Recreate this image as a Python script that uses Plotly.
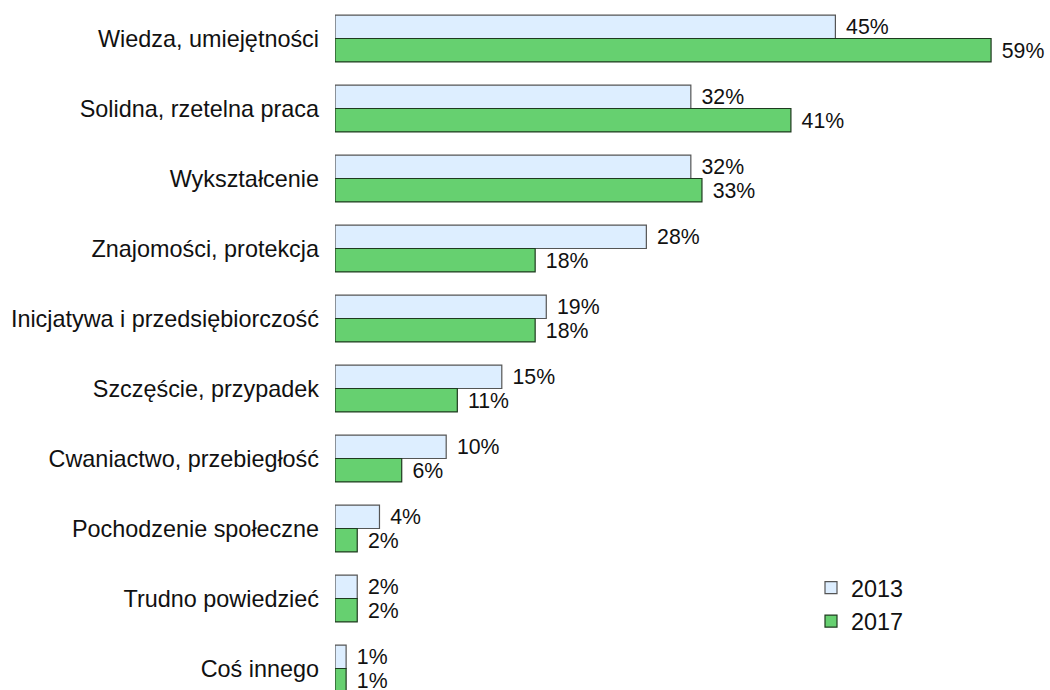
import plotly.graph_objects as go

categories = [
    "Wiedza, umiejętności",
    "Solidna, rzetelna praca",
    "Wykształcenie",
    "Znajomości, protekcja",
    "Inicjatywa i przedsiębiorczość",
    "Szczęście, przypadek",
    "Cwaniactwo, przebiegłość",
    "Pochodzenie społeczne",
    "Trudno powiedzieć",
    "Coś innego",
]
values_2013 = [45, 32, 32, 28, 19, 15, 10, 4, 2, 1]
values_2017 = [59, 41, 33, 18, 18, 11, 6, 2, 2, 1]
series_names = ["2013", "2017"]

FONT = "Arial, 'Liberation Sans', sans-serif"
FS = 23.4
LFS = 24.5
PAD = "\u00a0\u200a"

fig = go.Figure()
fig.add_trace(go.Bar(
    name=series_names[0], y=categories, x=values_2013, orientation="h",
    marker=dict(color="#DDEEFF", line=dict(color="#555555", width=1.2)),
    text=[f"{PAD}{v}%" for v in values_2013], textposition="outside",
    textfont=dict(family=FONT, size=LFS, color="#111111"),
    cliponaxis=False, legendgroup="a",
))
fig.add_trace(go.Bar(
    name=series_names[1], y=categories, x=values_2017, orientation="h",
    marker=dict(color="#66D070", line=dict(color="#1F3A1F", width=1.2)),
    text=[f"{PAD}{v}%" for v in values_2017], textposition="outside",
    textfont=dict(family=FONT, size=LFS, color="#111111"),
    cliponaxis=False, legendgroup="b",
))

fig.update_layout(
    width=1050, height=690,
    margin=dict(l=335, r=0, t=3, b=0),
    paper_bgcolor="white", plot_bgcolor="white",
    barmode="group", bargap=0.33, bargroupgap=0,
    font=dict(family=FONT, size=FS, color="#111111"),
    showlegend=True,
    legend=dict(
        x=(811 - 335) / 715, xanchor="left",
        y=(690 - 3 - 563) / 687, yanchor="top",
        traceorder="normal", tracegroupgap=5,
        font=dict(family=FONT, size=FS, color="#111111"),
        bgcolor="rgba(0,0,0,0)",
    ),
    uniformtext=dict(mode=False),
)
fig.update_xaxes(range=[0, 715 / 11.12], visible=False, showgrid=False, zeroline=False)
fig.update_yaxes(
    range=[(690 - 38.5) / 70, -35.5 / 70],
    showgrid=False, zeroline=False, showline=False, ticks="",
    ticklabelstandoff=15,
    tickfont=dict(family=FONT, size=FS, color="#111111"),
)

fig.write_html(
    "out.html",
    config={"displayModeBar": False},
    post_script="document.body.style.margin='0';document.body.style.overflow='hidden';",
)
